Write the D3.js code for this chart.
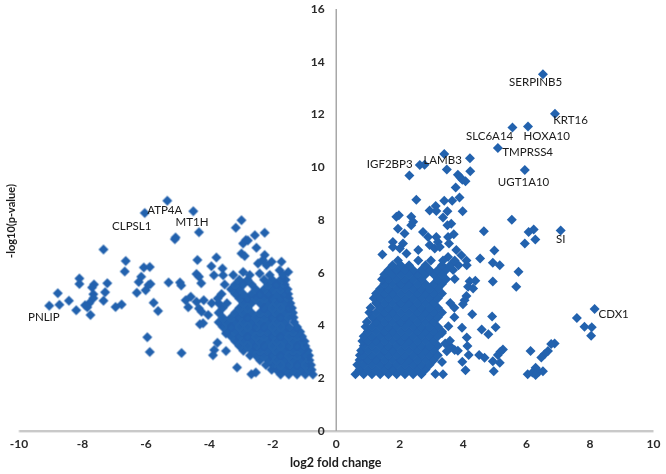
<!DOCTYPE html>
<html>
<head>
  <meta charset="utf-8">
  <title>Volcano plot</title>
  <script src="https://d3js.org/d3.v7.min.js"></script>
  <style>
    html, body { margin: 0; padding: 0; background: #fff; }
    text { font-family: Lato, sans-serif; fill: #1a1a1a; }
  </style>
</head>
<body>
  <svg id="graph" width="666" height="474"></svg>
  <script>
    // tick labels
    var xTicks = [-10, -8, -6, -4, -2, 0, 2, 4, 6, 8, 10];
    var yTicks = [0, 2, 4, 6, 8, 10, 12, 14, 16];

    // gene labels
    var geneNames = ["SERPINB5", "KRT16", "SLC6A14", "HOXA10", "TMPRSS4", "IGF2BP3", "LAMB3", "UGT1A10", "SI", "CDX1", "ATP4A", "CLPSL1", "MT1H", "PNLIP"];
    var geneFold = [6.3, 7.4, 4.85, 6.65, 6.05, 1.7, 3.37, 5.92, 7.09, 8.76, -5.39, -6.43, -4.53, -9.2];
    var geneP = [13.2, 11.76, 11.16, 11.16, 10.55, 10.1, 10.25, 9.41, 7.25, 4.4, 8.35, 7.75, 7.9, 4.3];

    // scattered down-regulated points [fold, p]
    var downSparse = [
      [-5.31,8.71],[-6.02,8.25],[-4.49,8.31],[-4.31,7.52],[-5.07,7.25],[-5.05,7.32],[-7.32,6.86],[-6.62,6.43],
      [-6.65,6.03],[-6.05,6.18],[-5.86,6.2],[-6.13,5.83],[-6.21,5.63],[-5.84,5.55],[-5.9,5.52],[-5.99,5.32],
      [-6.27,5.22],[-5.27,5.61],[-4.91,5.61],[-4.87,5.5],[-8.08,5.76],[-8.08,5.55],[-7.2,5.58],[-7.62,5.54],
      [-7.68,5.42],[-7.27,5.24],[-7.64,5.17],[-7.64,5.01],[-8.76,5.2],[-8.41,4.92],[-7.32,4.92],[-9.03,4.73],
      [-8.71,4.77],[-8.18,4.56],[-7.9,4.75],[-7.77,4.82],[-7.83,4.67],[-7.73,4.38],[-6.94,4.68],[-6.75,4.78],
      [-5.74,4.84],[-5.6,4.53],[-5.94,3.54],[-5.86,2.98],[-4.86,2.94],[-4.36,6.46],[-3.76,6.56],[-3.92,6.23],
      [-3.57,6.14],[-3.84,5.89],[-3.55,5.89],[-4.39,5.93],[-4.31,5.83],[-4.24,5.58],[-4.57,5.07],[-4.73,4.94],
      [-4.39,4.88],[-4.16,4.94],[-4.65,4.67],[-4.31,4.63],[-4.23,4.5],[-3.91,4.82],[-4.02,4.38],[-4.28,4.03],
      [-4.18,4.07],[-3.46,3.68],[-3.73,3.33],[-3.83,3.05],[-3.87,2.85],[-3.46,3.01],[-3.11,2.39],[-2.66,2.13],
      [-2.52,2.2],[-2.97,7.97],[-3.15,7.69],[-2.24,7.5],[-2.55,7.4],[-2.83,7.22],[-2.92,7.09],[-2.77,7.2],
      [-2.5,6.93],[-2.97,6.71],[-2.87,6.62],[-2.24,6.65],[-2.3,6.46],[-2.45,6.33],[-2.02,6.4],[-2.18,6.27],
      [-1.71,6.4],[-1.5,6.01],[-2.92,6.01],[-1.77,6.08],[-2.4,5.95]
    ];

    // dense down-regulated cloud, one row of folds per p level
    var downRowP = [2.12, 2.3, 2.48, 2.66, 2.84, 3.02, 3.2, 3.38, 3.56, 3.74, 3.92, 4.1, 4.28, 4.46, 4.64, 4.82, 5, 5.18, 5.36, 5.54, 5.72, 5.9];
    var downRowFold = [
      [-0.72,-0.96,-1.22,-1.48,-1.74],
      [-0.76,-0.83,-1.09,-1.35,-1.61,-1.87,-2.02],
      [-0.78,-0.96,-1.22,-1.48,-1.74,-2,-2.2],
      [-0.83,-1.09,-1.35,-1.61,-1.87,-2.13,-2.39],
      [-0.84,-0.96,-1.22,-1.48,-1.74,-2,-2.26,-2.52,-2.7],
      [-0.88,-1.09,-1.35,-1.61,-1.87,-2.13,-2.39,-2.65,-2.91],
      [-0.96,-1.22,-1.48,-1.74,-2,-2.26,-2.52,-2.78,-3.04],
      [-0.98,-1.09,-1.35,-1.61,-1.87,-2.13,-2.39,-2.65,-2.91,-3.17],
      [-1.06,-1.22,-1.48,-1.74,-2,-2.26,-2.52,-2.78,-3.04,-3.3],
      [-1.12,-1.35,-1.61,-1.87,-2.13,-2.39,-2.65,-2.91,-3.17,-3.43],
      [-1.22,-1.48,-1.74,-2,-2.26,-2.52,-2.78,-3.04,-3.3,-3.56],
      [-1.31,-1.61,-1.87,-2.13,-2.39,-2.65,-2.91,-3.17,-3.43,-3.69],
      [-1.33,-1.48,-1.74,-2,-2.26,-2.52,-2.78,-3.04,-3.3,-3.56],
      [-1.35,-1.61,-1.87,-2.13,-2.39,-2.65,-2.91,-3.17,-3.69],
      [-1.38,-1.48,-1.74,-2,-2.26,-2.78,-3.04,-3.56],
      [-1.43,-1.61,-1.87,-2.13,-2.39,-2.65,-2.91,-3.43,-3.69],
      [-1.48,-1.74,-2,-2.26,-2.52,-2.78,-3.04,-3.72],
      [-1.5,-1.61,-1.87,-2.13,-2.39,-2.65,-2.91,-3.17,-3.6],
      [-1.52,-1.74,-2,-2.26,-2.52,-3.04,-3.3],
      [-1.61,-1.87,-2.13,-2.65,-2.91,-3.17,-3.5],
      [-1.58,-1.74,-2,-2.26,-2.78,-3.04],
      [-1.66,-2.08,-2.71,-3.23]
    ];

    // scattered up-regulated points [fold, p]
    var upSparse = [
      [6.53,13.51],[6.91,12.01],[5.57,11.49],[6.06,11.53],[5.11,10.71],[5.96,9.88],[4.23,10.32],[3.42,10.48],
      [2.65,10.07],[2.8,10.08],[3.5,9.9],[4.24,9.83],[2.32,9.67],[3.85,9.7],[3.93,9.59],[4.09,9.45],
      [3.99,9.51],[3.78,9.21],[3.9,8.83],[3.67,8.71],[3.42,8.71],[2.54,8.75],[3.15,8.51],[2.96,8.34],
      [3.17,8.32],[3.52,8.31],[4,8.31],[3.38,8.08],[1.99,8.16],[1.91,8.1],[2.38,8.1],[5.55,7.99],
      [3.64,7.84],[3.52,7.78],[2.44,7.91],[2.38,7.78],[1.96,7.65],[4.67,7.55],[6.08,7.53],[6.24,7.62],
      [7.09,7.58],[6.29,7.24],[5.96,7.09],[5,6.82],[4.55,6.52],[3.72,7.44],[3.54,7.34],[3.57,7.09],
      [2.75,7.53],[2.91,7.34],[3.17,7.34],[3.22,7.15],[2.17,7.47],[1.8,7.15],[1.8,6.96],[2.12,7.09],
      [2.02,6.9],[1.47,6.67],[2.23,6.71],[2.6,6.84],[2.96,7.03],[3.12,6.9],[3.28,6.96],[3.8,6.84],
      [3.96,6.64],[3.54,6.58],
      [4.95,6.36],[5.17,6.27],[5.76,6.02],[4.95,5.65],[5.69,5.45],[3.75,5.74],[4.22,5.66],[4.4,5.68],
      [4.17,5.45],[4.33,5.38],[4.12,5.1],[4.06,4.94],[4.01,4.79],[4.3,4.41],[4.93,4.32],[5.04,3.91],
      [4.6,3.83],[4.81,3.65],[3.98,3.9],[4.13,3.53],[4.15,3.2],[3.85,3.02],[4.19,2.86],[3.99,2.61],
      [4.09,2.28],[4.52,2.86],[4.69,2.76],[4.95,2.63],[5.17,2.57],[4.98,2.25],[5.27,3.07],[5.19,2.99],
      [5.11,2.86],[6.14,3.01],[6.9,3.3],[6.79,3.28],[6.69,3.01],[6.58,2.89],[6.48,2.77],[6.3,2.38],
      [6.4,2.23],[6.53,2.25],[6.2,2.2],[6.05,2.13],[6.3,2.1],[7.6,4.27],[8.16,4.61],[7.84,3.93],
      [8.07,3.91],[8.05,3.59],[3.38,2.13],[3.14,2.14],[3.35,2.6],[3.6,3.2],[3.75,3.05],[3.5,3],
      [3.45,3.3],[3.6,3.4],[3.35,3.7],[3.55,3.95]
    ];

    // dense up-regulated cloud
    var upRowP = [2.13, 2.31, 2.49, 2.67, 2.85, 3.03, 3.21, 3.39, 3.57, 3.75, 3.93, 4.11, 4.29, 4.47, 4.65, 4.83, 5.01, 5.19, 5.37, 5.55, 5.73, 5.91, 6.09, 6.27, 6.45];
    var upRowFold = [
      [0.62,0.88,1.14,1.4,1.66,1.92,2.18,2.44,2.7],
      [0.75,1.01,1.27,1.53,1.79,2.05,2.31,2.57,2.83],
      [0.68,0.88,1.14,1.4,1.66,1.92,2.18,2.44,2.7,2.96],
      [0.75,1.01,1.27,1.53,1.79,2.05,2.31,2.57,2.83,3.09],
      [0.76,0.88,1.14,1.4,1.66,1.92,2.18,2.44,2.7,2.96,3.22],
      [0.8,1.01,1.27,1.53,1.79,2.05,2.31,2.57,2.83,3.09],
      [0.88,1.14,1.4,1.66,1.92,2.18,2.44,2.7,2.96,3.22],
      [0.84,1.01,1.27,1.53,1.79,2.05,2.31,2.57,2.83,3.09],
      [0.88,1.14,1.4,1.66,1.92,2.18,2.44,2.7,2.96,3.22],
      [1.01,1.27,1.53,1.79,2.05,2.31,2.57,2.83,3.09,3.35],
      [0.94,1.14,1.4,1.66,1.92,2.18,2.44,2.7,2.96,3.22],
      [0.98,1.27,1.53,1.79,2.05,2.31,2.57,2.83,3.09],
      [1.14,1.4,1.66,1.92,2.18,2.44,2.7,2.96,3.22,3.74],
      [1.06,1.27,1.53,1.79,2.05,2.31,2.57,2.83,3.09,3.35],
      [1.1,1.4,1.66,1.92,2.18,2.44,2.7,2.96,3.22,3.74],
      [1.27,1.53,1.79,2.05,2.31,2.57,2.83,3.09,3.61],
      [1.2,1.4,1.66,1.92,2.18,2.44,2.7,2.96,3.22],
      [1.27,1.53,1.79,2.05,2.31,2.57,2.83,3.09,3.35],
      [1.4,1.66,1.92,2.18,2.44,2.7,2.96,3.22],
      [1.53,1.79,2.05,2.31,2.57,2.83,3.09,3.35],
      [1.46,1.66,1.92,2.18,2.44,2.7,3.22,3.48],
      [1.53,1.79,2.05,2.31,2.57,2.83,3.09,3.35],
      [1.66,1.92,2.18,2.44,2.7,2.96,3.22,3.48,3.7],
      [1.79,2.05,2.31,2.83,3.35,3.61,3.87,4.13],
      [1.96,2.6,3,3.38,3.75,4.12]
    ];

    var margin = {top: 8.5, right: 13, bottom: 43.5, left: 18.5},
        width = 666 - margin.left - margin.right,
        height = 474 - margin.top - margin.bottom;

    var x = d3.scaleLinear().domain([-10, 10]).range([0, width]);
    var y = d3.scaleLinear().domain([0, 16]).range([height, 0]);

    var svg = d3.select("#graph");

    // the reference is a soft, resampled image
    svg.append("defs").append("filter").attr("id", "soft")
      .append("feGaussianBlur").attr("stdDeviation", 0.4);

    var g = svg.append("g")
        .attr("transform", "translate(" + margin.left + "," + margin.top + ")")
        .attr("filter", "url(#soft)");

    // flatten the rows into points
    var points = downSparse.concat(upSparse);
    downRowP.forEach(function(p, i) {
      downRowFold[i].forEach(function(f) { points.push([f, p]); });
    });
    upRowP.forEach(function(p, i) {
      upRowFold[i].forEach(function(f) { points.push([f, p]); });
    });

    // X axis
    var xAxis = g.append("g")
        .attr("transform", "translate(0," + y(0) + ")")
        .call(d3.axisBottom(x).tickValues(xTicks).tickSize(0).tickPadding(9).tickFormat(String));

    // Y axis sits on x = 0
    var yAxis = g.append("g")
        .attr("transform", "translate(" + x(0) + ",0)")
        .call(d3.axisLeft(y).tickValues(yTicks).tickSize(0).tickPadding(11).tickFormat(String));

    [xAxis, yAxis].forEach(function(a) {
      a.select(".domain").attr("stroke", "#a8a8a8").attr("stroke-width", 1.5);
      a.selectAll("text").attr("font-size", 12).attr("font-weight", 700)
        .style("font-family", "Lato, sans-serif").style("fill", "#2a2a2a");
    });

    // diamonds
    var diamond = d3.symbol().type(d3.symbolSquare).size(50);
    g.selectAll(".pt")
        .data(points)
      .enter().append("path")
        .attr("class", "pt")
        .attr("d", diamond)
        .attr("fill", "#2462ae")
        .attr("transform", function(d) { return "translate(" + x(d[0]) + "," + y(d[1]) + ") rotate(45)"; });

    // gene labels
    g.selectAll(".gene")
        .data(geneNames)
      .enter().append("text")
        .attr("class", "gene")
        .attr("x", function(d, i) { return x(geneFold[i]); })
        .attr("y", function(d, i) { return y(geneP[i]); })
        .attr("dy", "0.35em")
        .attr("text-anchor", "middle")
        .attr("font-size", 11.5)
        .text(function(d) { return d; });

    // axis titles
    g.append("text")
        .attr("x", x(0))
        .attr("y", y(0) + 32.5)
        .attr("dy", "0.35em")
        .attr("text-anchor", "middle")
        .attr("font-size", 12.5)
        .attr("font-weight", 700)
        .text("log2 fold change");

    g.append("text")
        .attr("transform", "translate(" + (11 - margin.left) + "," + (221 - margin.top) + ") rotate(-90)")
        .attr("dy", "0.35em")
        .attr("text-anchor", "middle")
        .attr("font-size", 11)
        .attr("font-weight", 700)
        .text("-log10(p-value)");
  </script>
</body>
</html>
